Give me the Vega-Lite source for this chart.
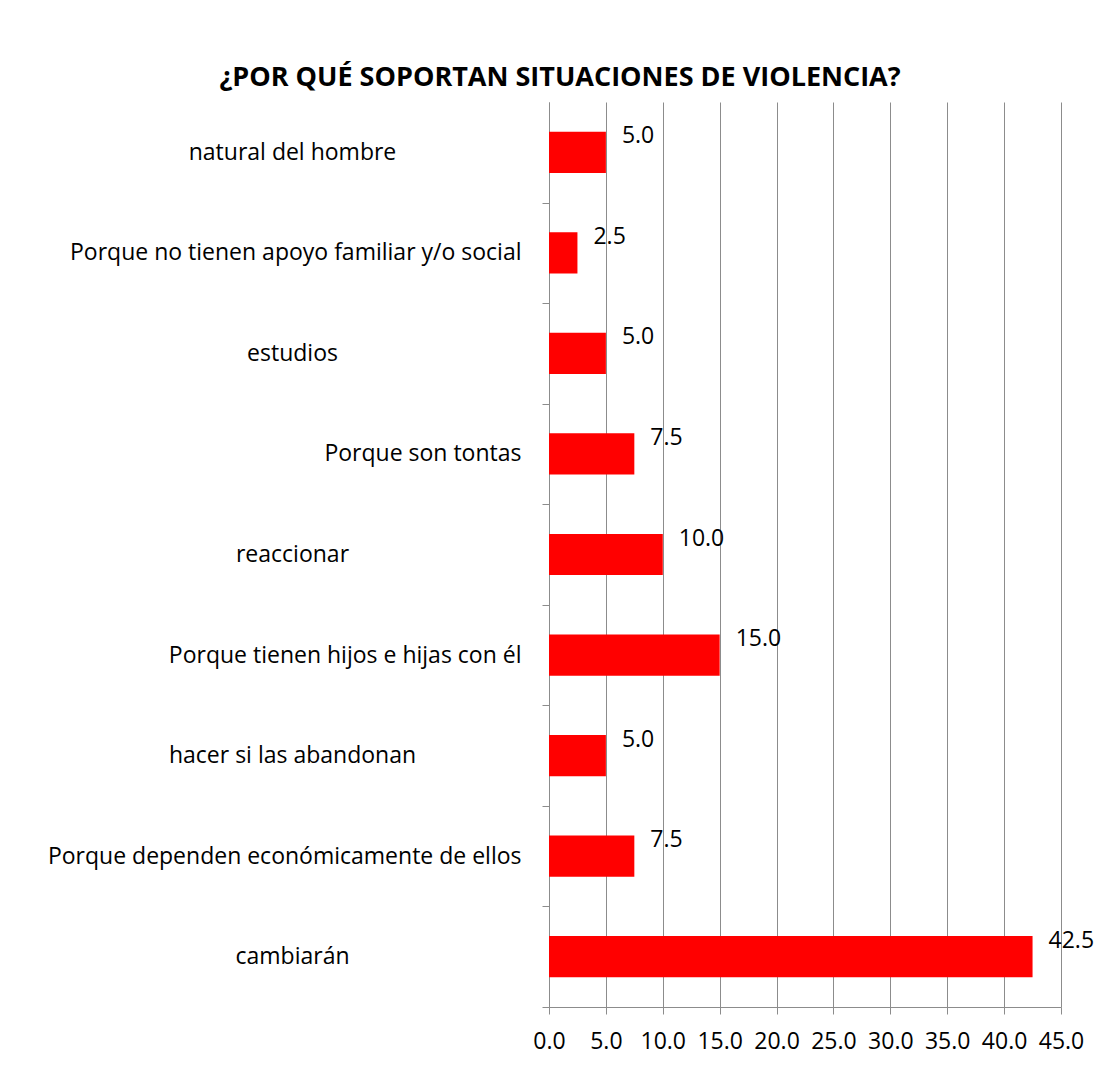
{
  "$schema": "https://vega.github.io/schema/vega-lite/v6.json",
  "width": 512,
  "height": 905,
  "padding": {"left": 47, "top": 64, "right": 10, "bottom": 10},
  "background": "white",
  "title": {
    "text": "¿POR QUÉ SOPORTAN SITUACIONES DE VIOLENCIA?",
    "font": "Open Sans",
    "fontSize": 27,
    "fontWeight": "bold",
    "color": "#000000",
    "anchor": "middle",
    "frame": "group",
    "dx": -245,
    "offset": -11,
    "baseline": "alphabetic"
  },
  "data": {
    "values": [
      {"motivo": "natural del hombre", "porcentaje": 5.0},
      {"motivo": "Porque no tienen apoyo familiar y/o social", "porcentaje": 2.5},
      {"motivo": "estudios", "porcentaje": 5.0},
      {"motivo": "Porque son tontas", "porcentaje": 7.5},
      {"motivo": "reaccionar", "porcentaje": 10.0},
      {"motivo": "Porque tienen hijos e hijas con él", "porcentaje": 15.0},
      {"motivo": "hacer si las abandonan", "porcentaje": 5.0},
      {"motivo": "Porque dependen económicamente de ellos", "porcentaje": 7.5},
      {"motivo": "cambiarán", "porcentaje": 42.5}
    ]
  },
  "encoding": {
    "y": {
      "field": "motivo",
      "type": "nominal",
      "sort": null,
      "scale": {"paddingInner": 0.59, "paddingOuter": 0.295},
      "axis": {
        "title": null,
        "domainColor": "#8c8c8c",
        "tickColor": "#8c8c8c",
        "tickSize": 7,
        "tickOffset": 50.28,
        "labelOffset": -50.28,
        "labelFont": "Open Sans",
        "labelFontSize": 23,
        "labelColor": "#000000",
        "labelLimit": 600,
        "labelBaseline": "middle",
        "labelAlign": {"condition": {"test": "indexof(datum.value, 'Porque') === 0", "value": "right"}, "value": "center"},
        "labelPadding": {"condition": {"test": "indexof(datum.value, 'Porque') === 0", "value": 21}, "value": 250}
      }
    },
    "x": {
      "field": "porcentaje",
      "type": "quantitative",
      "scale": {"domain": [0, 45], "nice": false},
      "axis": {
        "title": null,
        "values": [0, 5, 10, 15, 20, 25, 30, 35, 40, 45],
        "format": ".1f",
        "grid": true,
        "gridColor": "#8c8c8c",
        "gridWidth": 1,
        "domainColor": "#8c8c8c",
        "tickColor": "#8c8c8c",
        "tickSize": 7,
        "labelFont": "Open Sans",
        "labelFontSize": 23,
        "labelColor": "#000000",
        "labelPadding": 16,
        "labelFlush": false,
        "labelOverlap": false
      }
    }
  },
  "layer": [
    {"mark": {"type": "bar", "color": "#ff0000"}},
    {
      "mark": {"type": "text", "align": "left", "baseline": "middle", "dx": 16, "dy": -16, "font": "Open Sans", "fontSize": 23, "color": "#000000"},
      "encoding": {"text": {"field": "porcentaje", "type": "quantitative", "format": ".1f"}}
    }
  ],
  "config": {"view": {"stroke": null}}
}
